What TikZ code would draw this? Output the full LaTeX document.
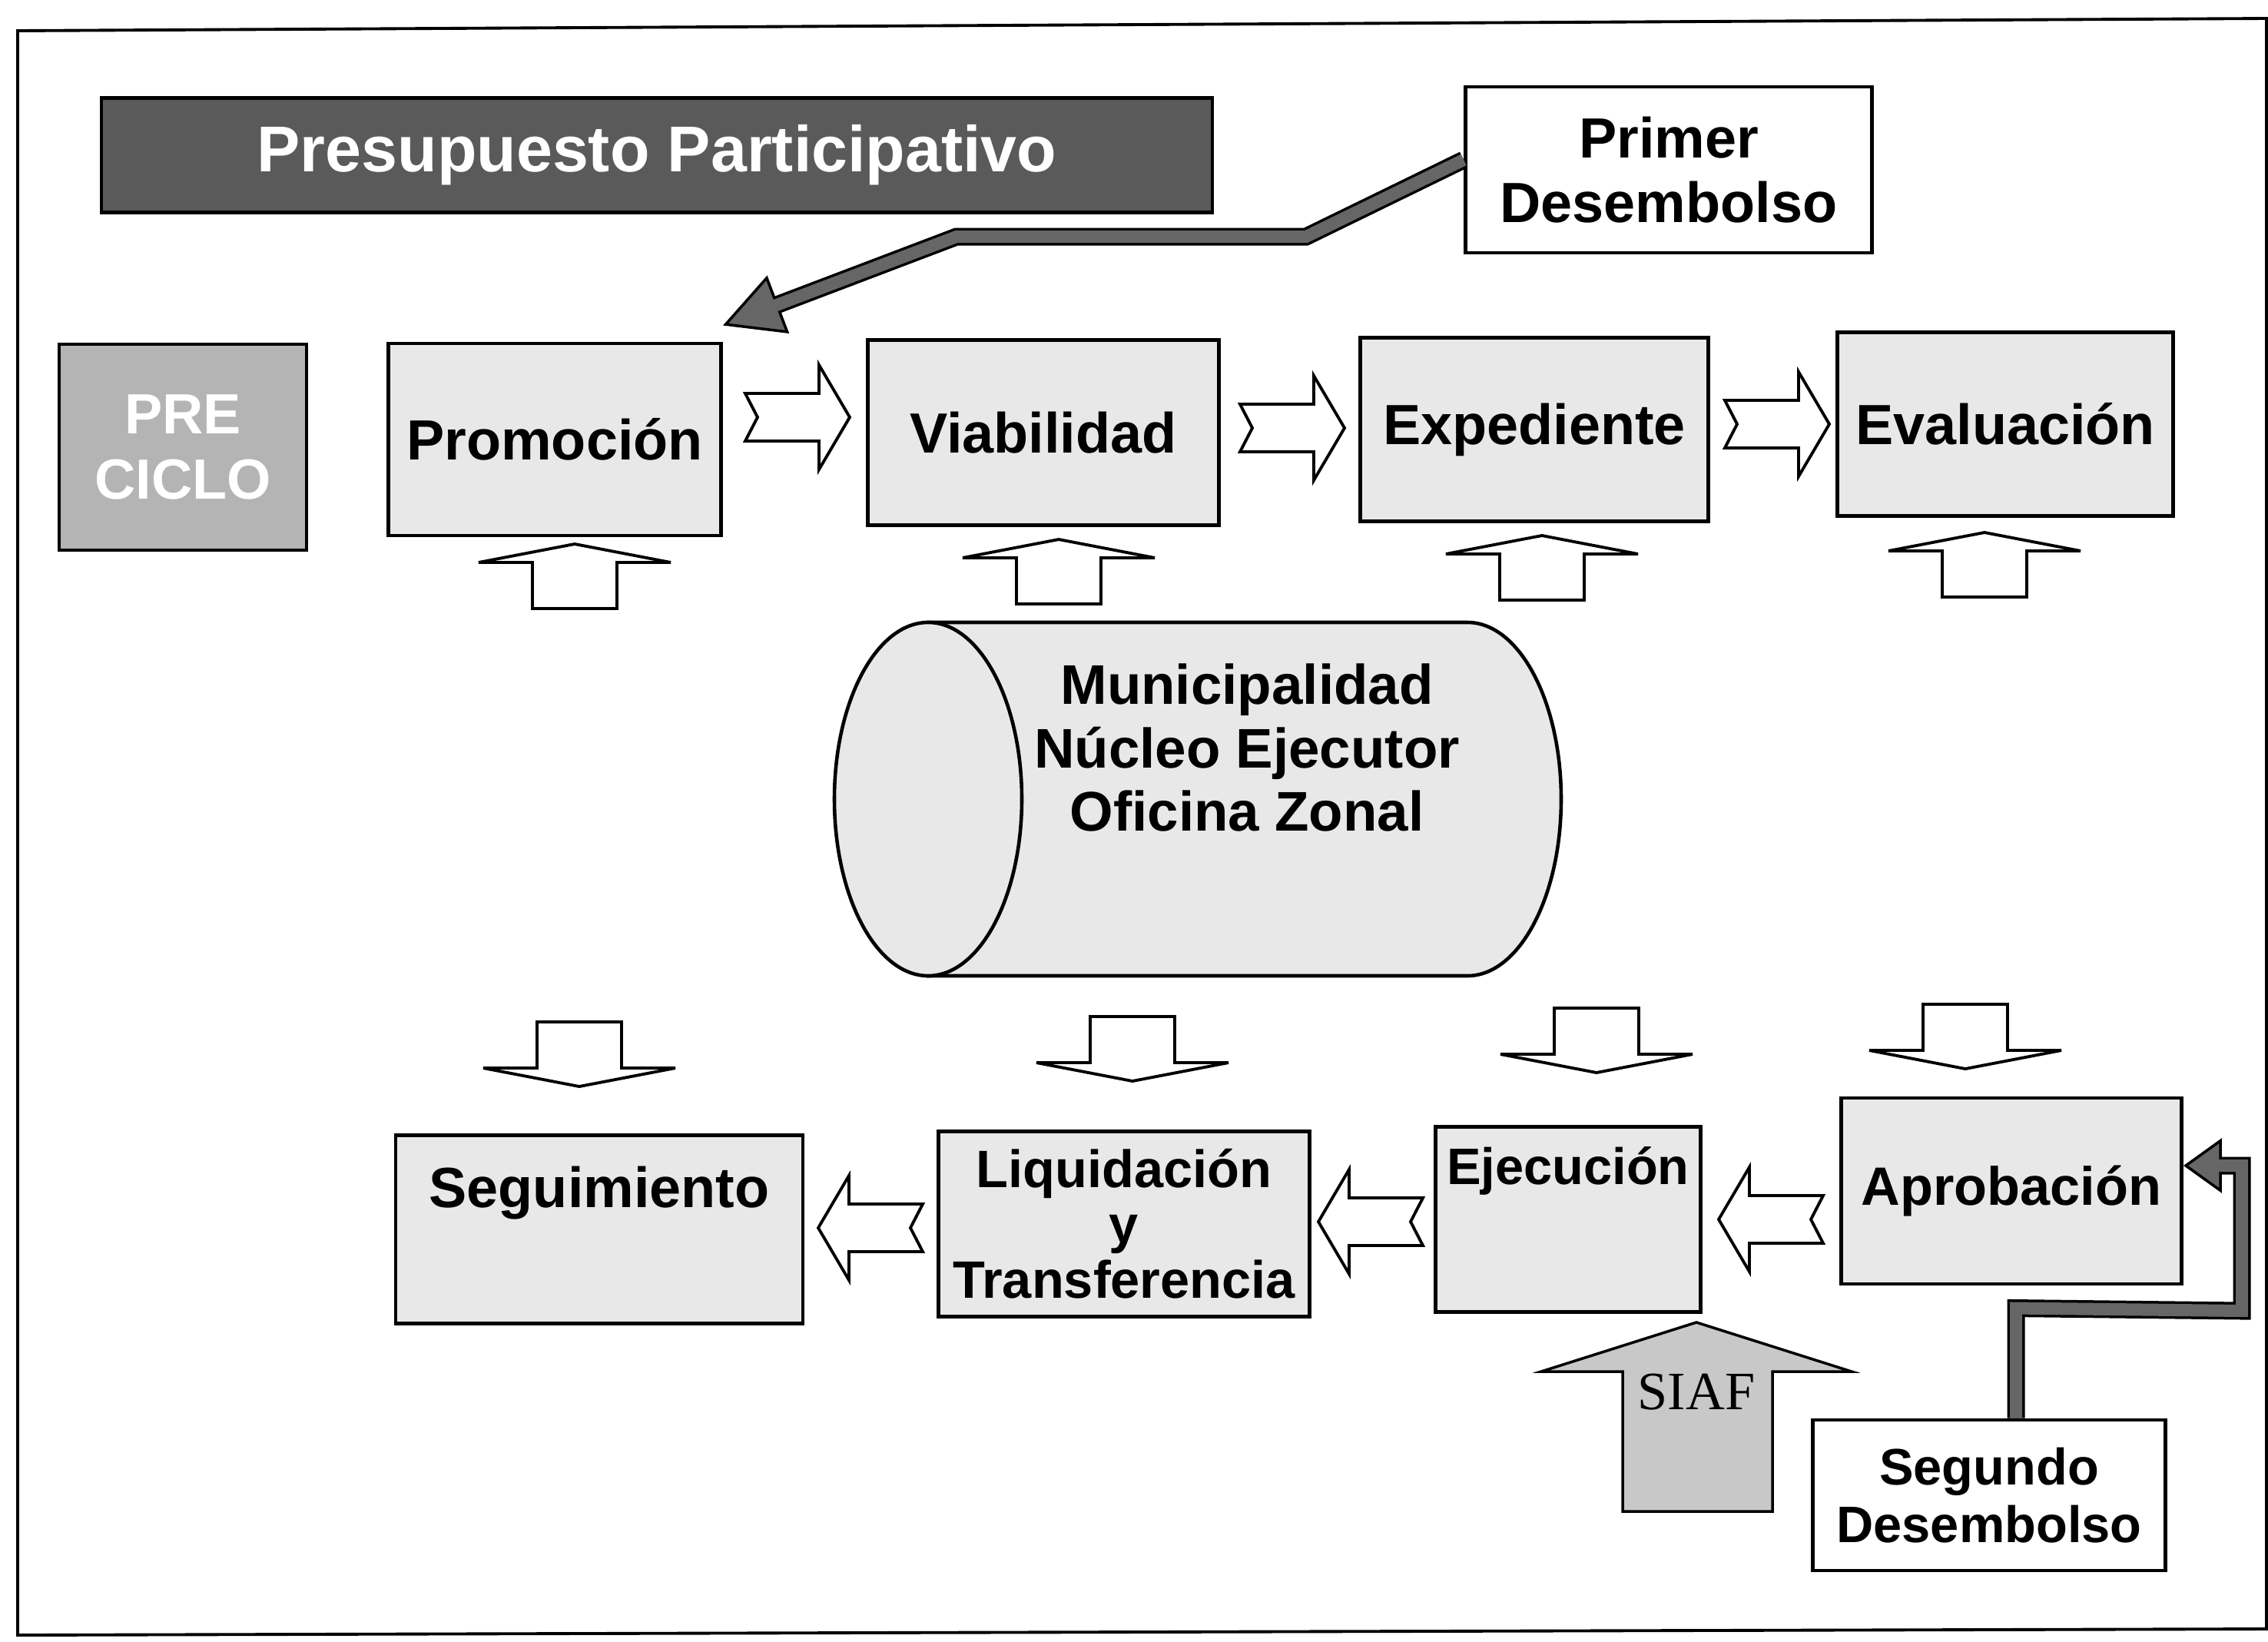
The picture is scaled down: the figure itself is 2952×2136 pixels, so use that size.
\documentclass[tikz,border=0pt]{standalone}
\usepackage{fontspec}
\setmainfont{Liberation Sans}
\newfontfamily\siaffont{Liberation Serif}
\usetikzlibrary{arrows.meta,positioning}

\definecolor{boxgray}{HTML}{E8E8E8}
\definecolor{pregray}{HTML}{B4B4B4}
\definecolor{titlegray}{HTML}{5A5A5A}
\definecolor{darkarr}{HTML}{666666}
\definecolor{siafgray}{HTML}{C8C8C8}

\tikzset{
  etapa/.style={draw, line width=1.4pt, fill=boxgray, inner sep=0pt, align=center,
    font=\bfseries\fontsize{21}{24}\selectfont},
  aviso/.style={etapa, fill=white},
  rotulo/.style={inner sep=0pt, align=center, font=\bfseries\fontsize{21}{24}\selectfont},
  bloque/.style={draw, line width=1.1pt, fill=white, line join=miter},
  desembolso/.style={line width=2.3mm, line join=miter},
  relleno/.style={line width=1.6mm, darkarr, line join=miter},
  flechader/.pic={\draw[bloque] (-68,-31) -- (28,-31) -- (28,-68) -- (68,0) -- (28,68)
    -- (28,31) -- (-68,31) -- (-52,0) -- cycle;},
  flechasub/.pic={\draw[bloque] (-55,42) -- (-55,-18) -- (-125,-18) -- (0,-42)
    -- (125,-18) -- (55,-18) -- (55,42) -- cycle;}
}

\begin{document}
\begin{tikzpicture}[x=0.1mm, y=-0.1mm]
    \useasboundingbox (0,0) rectangle (2952,2136);
    \draw[line width=1.1pt] (23,40) -- (2950,24) -- (2950,2120) -- (23,2128) -- cycle;

    % title and first disbursement
    \node[draw, line width=1.4pt, fill=titlegray, text=white, minimum width=144.6mm,
          minimum height=14.9mm, font=\bfseries\fontsize{24}{28}\selectfont] (titulo)
          at (855,202) {Presupuesto Participativo};
    \node[aviso, minimum width=52.9mm, minimum height=21.6mm] (prim) at (2172,221)
          {Primer\\Desembolso};

    % upper row
    \node[etapa, fill=pregray, text=white, minimum width=32.2mm, minimum height=26.8mm] (pre)
          at (238,582) {PRE\\CICLO};
    \node[etapa, minimum width=43.3mm, minimum height=25mm] (prom) at (722,572) {Promoción};
    \node[etapa, minimum width=45.7mm, minimum height=24.1mm] (viab) at (1358,563) {Viabilidad};
    \node[etapa, minimum width=45.3mm, minimum height=23.9mm] (expe) at (1997,559) {Expediente};
    \node[etapa, minimum width=43.7mm, minimum height=23.9mm] (eval) at (2610,552) {Evaluación};

    % the cylinder
    \filldraw[fill=boxgray, line width=1.3pt] (1208,810) -- (1910,810)
          arc[start angle=90, end angle=-90, x radius=12.2mm, y radius=23mm] -- (1208,1270) -- cycle;
    \filldraw[fill=boxgray, line width=1.3pt] (1208,1040) ellipse [x radius=12.2mm, y radius=23mm];
    \node[rotulo, font=\bfseries\fontsize{20.7}{23.6}\selectfont] (muni) at (1623,973)
          {Municipalidad\\Núcleo Ejecutor\\Oficina Zonal};

    % lower row
    \node[etapa, minimum width=53mm, minimum height=24.5mm] (segu) at (780,1600) {};
    \node[rotulo, below=4.2mm of segu.north] (segutxt) {Seguimiento};
    \node[etapa, minimum width=48.3mm, minimum height=24.1mm,
          font=\bfseries\fontsize{19.5}{20.5}\selectfont] (liqu) at (1463,1593)
          {Liquidación\\y\\Transferencia};
    \node[etapa, minimum width=34.5mm, minimum height=24.1mm] (ejec) at (2041,1587) {};
    \node[rotulo, font=\bfseries\fontsize{19}{22}\selectfont, below=2.8mm of ejec.north]
          (ejectxt) {Ejecución};
    \node[etapa, minimum width=44.3mm, minimum height=24.2mm,
          font=\bfseries\fontsize{20}{24}\selectfont] (apro) at (2618,1550) {Aprobación};
    \node[aviso, minimum width=45.9mm, minimum height=19.6mm,
          font=\bfseries\fontsize{19}{21.3}\selectfont] (sdes) at (2589,1946)
          {Segundo\\Desembolso};

    % block arrows
    \foreach \px/\py in {1038/543, 1682/557, 2313/552}
        \pic at (\px,\py) {flechader};
    \foreach \px/\py in {1133/1598, 1784/1590, 2305/1587}
        \pic[rotate=180] at (\px,\py) {flechader};
    \foreach \px/\py in {748/750, 1378/744, 2007/739, 2583/735}
        \pic at (\px,\py) {flechasub};
    \foreach \px/\py in {754/1372, 1474/1365, 2078/1354, 2558/1349}
        \pic[rotate=180] at (\px,\py) {flechasub};

    % SIAF
    \filldraw[fill=siafgray, line width=1pt, line join=miter] (2112,1967) -- (2112,1785)
          -- (2006,1785) -- (2208,1721) -- (2410,1785) -- (2307,1785) -- (2307,1967) -- cycle;
    \node[font=\siaffont\fontsize{20}{24}\selectfont] (siaf) at (2208,1812) {SIAF};

    % disbursements
    \draw[desembolso, -{Triangle[length=7.7mm, width=8mm, fill=darkarr, line width=1pt]}]
          ([yshift=1.3mm]prim.west) -- (1700,308) -- (1245,308) -- ([yshift=2.1mm]prom.north east);
    \draw[relleno, shorten >=7.2mm]
          ([yshift=1.3mm]prim.west) -- (1700,308) -- (1245,308) -- ([yshift=2.1mm]prom.north east);
    \draw[desembolso, -{Triangle[length=5mm, width=7.1mm, fill=darkarr, line width=1pt]}]
          ([xshift=3.5mm]sdes.north) -- ++(0,-143) -- (2918,1706) -- (2918,1517)
          -- ([yshift=3.3mm]apro.east);
    \draw[relleno, shorten >=4.5mm]
          ([xshift=3.5mm]sdes.north) -- ++(0,-143) -- (2918,1706) -- (2918,1517)
          -- ([yshift=3.3mm]apro.east);
\end{tikzpicture}
\end{document}
